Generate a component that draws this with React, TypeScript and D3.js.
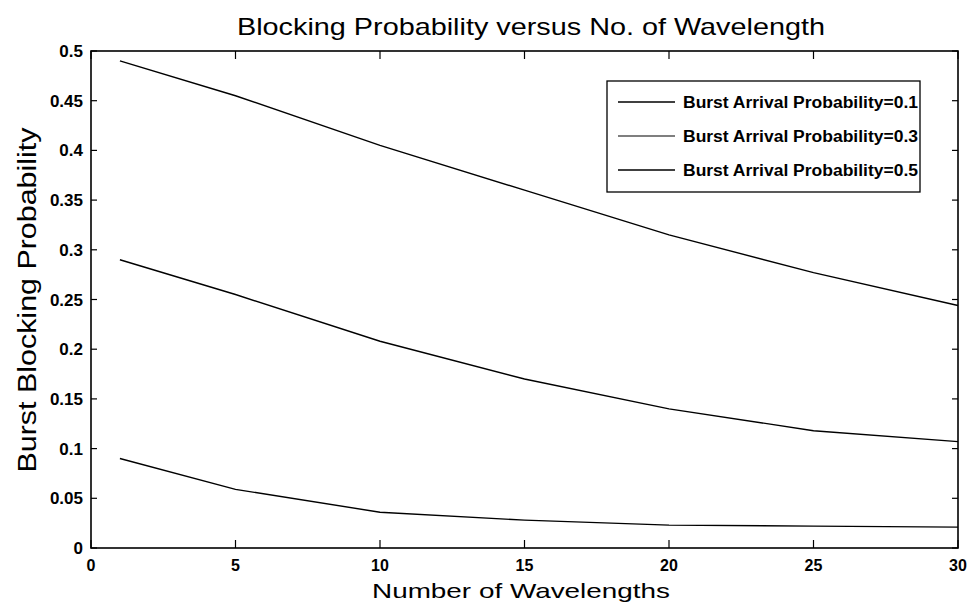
import React from "react";
import * as d3 from "d3";

const wavelengths = [1, 5, 10, 15, 20, 25, 30];
const seriesP01 = [0.49, 0.455, 0.405, 0.36, 0.315, 0.277, 0.244];
const seriesP03 = [0.29, 0.255, 0.208, 0.17, 0.14, 0.118, 0.107];
const seriesP05 = [0.09, 0.059, 0.036, 0.028, 0.023, 0.022, 0.021];
const seriesNames = [
  "Burst Arrival Probability=0.1",
  "Burst Arrival Probability=0.3",
  "Burst Arrival Probability=0.5",
];
const xTicks = [0, 5, 10, 15, 20, 25, 30];
const yTicks = [0, 0.05, 0.1, 0.15, 0.2, 0.25, 0.3, 0.35, 0.4, 0.45, 0.5];

const W = 973, H = 611;
const L = 91, R = 958, T = 51, B = 548;

export default function App() {
  const x = d3.scaleLinear().domain([0, 30]).range([L, R]);
  const y = d3.scaleLinear().domain([0, 0.5]).range([B, T]);
  const line = d3.line<number>().x((_, i) => x(wavelengths[i])).y((d) => y(d));
  const series = [seriesP01, seriesP03, seriesP05];
  const legendX = 607, legendY = 81, legendW = 313, legendH = 111;
  return (
    <svg width={W} height={H} style={{ position: "absolute", left: 0, top: 0, background: "#fff" }}
      fontFamily="Liberation Sans, Arial, sans-serif">
      <rect x={0} y={0} width={W} height={H} fill="#fff" />
      <text x={531} y={35} textAnchor="middle" fontSize={24} textLength={588} lengthAdjust="spacingAndGlyphs">Blocking Probability versus No. of Wavelength</text>
      {series.map((s, i) => (
        <path key={i} d={line(s) || ""} fill="none" stroke="#000" strokeWidth={1.4} />
      ))}
      <rect x={L} y={T} width={R - L} height={B - T} fill="none" stroke="#000" strokeWidth={1.6} />
      {xTicks.map((t) => (
        <g key={"x" + t}>
          <line x1={x(t)} x2={x(t)} y1={B} y2={B - 8} stroke="#000" strokeWidth={1.2} />
          <line x1={x(t)} x2={x(t)} y1={T} y2={T + 8} stroke="#000" strokeWidth={1.2} />
          <text x={x(t)} y={571} textAnchor="middle" fontSize={16} fontWeight="bold">{t}</text>
        </g>
      ))}
      {yTicks.map((t) => (
        <g key={"y" + t}>
          <line x1={L} x2={L + 6} y1={y(t)} y2={y(t)} stroke="#000" strokeWidth={1.2} />
          <line x1={R} x2={R - 6} y1={y(t)} y2={y(t)} stroke="#000" strokeWidth={1.2} />
          <text x={83} y={y(t) + 6} textAnchor="end" fontSize={17} fontWeight="bold">{String(t)}</text>
        </g>
      ))}
      <text x={521} y={598} textAnchor="middle" fontSize={21} textLength={298} lengthAdjust="spacingAndGlyphs">Number of Wavelengths</text>
      <text transform={`translate(36,300) rotate(-90)`} textAnchor="middle" fontSize={25} textLength={345} lengthAdjust="spacingAndGlyphs">Burst Blocking Probability</text>
      <rect x={legendX} y={legendY} width={legendW} height={legendH} fill="#fff" stroke="#000" strokeWidth={1.3} />
      {seriesNames.map((n, i) => {
        const cy = legendY + 21 + i * 34;
        return (
          <g key={n}>
            <line x1={618} x2={675} y1={cy} y2={cy} stroke={i === 1 ? "#555" : "#000"} strokeWidth={1.4} />
            <text x={683} y={cy + 6} fontSize={16} fontWeight="bold" textLength={235} lengthAdjust="spacingAndGlyphs">{n}</text>
          </g>
        );
      })}
    </svg>
  );
}
